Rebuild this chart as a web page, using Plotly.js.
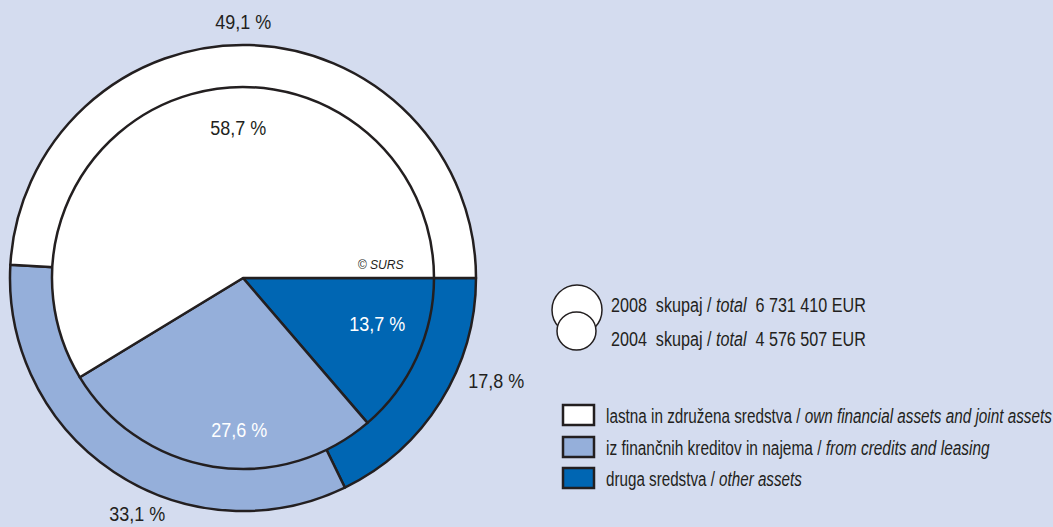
<!DOCTYPE html>
<html>
<head>
<meta charset="utf-8">
<script src="https://cdn.plot.ly/plotly-3.0.1.min.js"></script>
<style>html,body{margin:0;padding:0;background:#d4dcef;}#chart{width:1053px;height:527px;}</style>
</head>
<body>
<div id="chart"></div>
<script>
// ---- data ----
const categories = ['lastna in združena sredstva', 'iz finančnih kreditov in najema', 'druga sredstva'];
const categoriesEn = ['own financial assets and joint assets', 'from credits and leasing', 'other assets'];
const share2008 = [49.1, 33.1, 17.8];
const share2004 = [58.7, 27.6, 13.7];
const years = ['2008', '2004'];
const totals = ['6 731 410', '4 576 507'];

// ---- styles ----
const W = 1053, H = 527;
const colors = ['#ffffff', '#95afda', '#0066b3'];
const ink = '#231f20';
const FONT = '"Liberation Sans", Arial, sans-serif';
const px = x => x / W;
const py = y => 1 - y / H;
const fmt = v => v.toFixed(1).replace('.', ',') + ' %';
const rev = a => a.slice().reverse();

// pie geometry (pixels)
const cx = 243, cy = 278, rOuter = 233, rInner = 191;
function dom(r) {
  return { x: [px(cx - r), px(cx + r)], y: [py(cy + r), py(cy - r)] };
}

// slices run counterclockwise from 3 o'clock: feed reversed order clockwise from 3 o'clock
function pieTrace(values, r, name) {
  return {
    type: 'pie', labels: rev(categories), values: rev(values), sort: false,
    direction: 'clockwise', rotation: 90, textinfo: 'none', hoverinfo: 'label+percent',
    marker: { colors: rev(colors), line: { color: ink, width: 2.5 } },
    domain: dom(r), name: name, showlegend: false
  };
}
const traces = [pieTrace(share2008, rOuter, years[0]), pieTrace(share2004, rInner, years[1])];

// label positions (pixels)
const outerPos = [[243, 22], [137, 514], [496, 381]];
const innerPos = [[238, 128], [239, 430], [377, 324]];
const innerTextColors = [ink, '#ffffff', '#ffffff'];

const annotations = [];
const fits = []; // target text widths (px) for horizontal condensing
share2008.forEach((v, i) => { annotations.push({
  x: px(outerPos[i][0]), y: py(outerPos[i][1]), xref: 'paper', yref: 'paper',
  text: fmt(v), showarrow: false, xanchor: 'center', yanchor: 'middle',
  font: { family: FONT, size: 20, color: ink }
}); fits.push(56); });
share2004.forEach((v, i) => { annotations.push({
  x: px(innerPos[i][0]), y: py(innerPos[i][1]), xref: 'paper', yref: 'paper',
  text: fmt(v), showarrow: false, xanchor: 'center', yanchor: 'middle',
  font: { family: FONT, size: 20, color: innerTextColors[i] }
}); fits.push(56); });
annotations.push({
  x: px(381), y: py(264), xref: 'paper', yref: 'paper', text: '<i>© SURS</i>',
  showarrow: false, xanchor: 'center', yanchor: 'middle',
  font: { family: FONT, size: 13, color: ink }
}); fits.push(46);

// year/total legend
const yearY = [304, 338];
years.forEach((yr, i) => { annotations.push({
  x: px(609), y: py(yearY[i]), xref: 'paper', yref: 'paper',
  text: yr + '\u00a0\u00a0skupaj / <i>total</i>\u00a0\u00a0' + totals[i] + ' EUR',
  showarrow: false, xanchor: 'left', yanchor: 'middle', align: 'left',
  font: { family: FONT, size: 21, color: ink }
}); fits.push(255); });

// category legend
const legY = [415, 447, 478];
const legW = [446, 384, 196];
categories.forEach((c, i) => { annotations.push({
  x: px(604), y: py(legY[i]), xref: 'paper', yref: 'paper',
  text: c + ' / <i>' + categoriesEn[i] + '</i>',
  showarrow: false, xanchor: 'left', yanchor: 'middle', align: 'left',
  font: { family: FONT, size: 21, color: ink }
}); fits.push(legW[i]); });

const shapes = [
  { type: 'circle', xref: 'paper', yref: 'paper', x0: px(552), x1: px(602), y0: py(335), y1: py(285),
    fillcolor: '#ffffff', line: { color: ink, width: 1.5 } },
  { type: 'circle', xref: 'paper', yref: 'paper', x0: px(557), x1: px(596), y0: py(350), y1: py(312),
    fillcolor: '#ffffff', line: { color: ink, width: 1.5 } }
];
colors.forEach((col, i) => shapes.push({
  type: 'rect', xref: 'paper', yref: 'paper',
  x0: px(563), x1: px(594), y0: py(legY[i] + 10), y1: py(legY[i] - 10),
  fillcolor: col, line: { color: ink, width: 2.5 }
}));

const layout = {
  width: W, height: H, margin: { l: 0, r: 0, t: 0, b: 0 },
  paper_bgcolor: '#d4dcef', plot_bgcolor: '#d4dcef',
  annotations: annotations, shapes: shapes, showlegend: false
};
Plotly.newPlot('chart', traces, layout, { displayModeBar: false, staticPlot: true }).then(gd => {
  // condense glyphs horizontally (about the anchor point) to mimic the narrow typeface of the original
  const texts = gd.querySelectorAll('.annotation-text');
  texts.forEach((t, i) => {
    const target = fits[i];
    if (!target) return;
    const len = t.getComputedTextLength();
    if (!len) return;
    const s = target / len;
    const x0 = parseFloat(t.getAttribute('x')) || 0;
    t.setAttribute('transform', 'translate(' + x0 + ',0) scale(' + s + ',1) translate(' + (-x0) + ',0)');
  });
});
</script>
</body>
</html>
